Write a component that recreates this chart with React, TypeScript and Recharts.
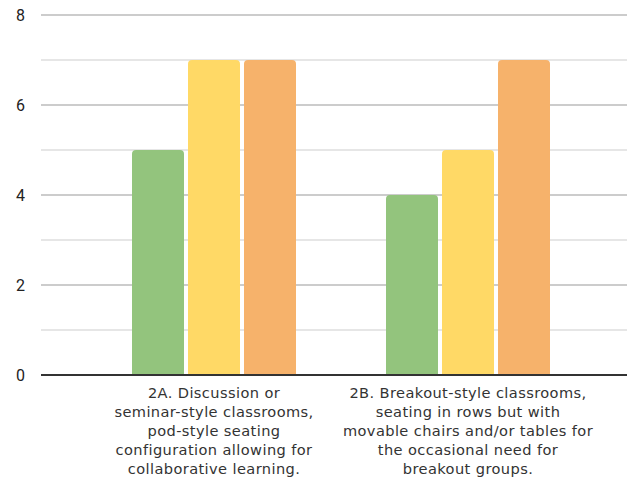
import { BarChart, Bar, XAxis, YAxis, CartesianGrid, ReferenceLine } from "recharts";

const categories = [
  "2A. Discussion or seminar-style classrooms, pod-style seating configuration allowing for collaborative learning.",
  "2B. Breakout-style classrooms, seating in rows but with movable chairs and/or tables for the occasional need for breakout groups.",
];
const categoryLines = [
  ["2A. Discussion or", "seminar-style classrooms,", "pod-style seating", "configuration allowing for", "collaborative learning."],
  ["2B. Breakout-style classrooms,", "seating in rows but with", "movable chairs and/or tables for", "the occasional need for", "breakout groups."],
];
const greenValues = [5, 4];
const yellowValues = [7, 5];
const orangeValues = [7, 7];
const majorTicks = [0, 2, 4, 6, 8];
const minorTicks = [1, 3, 5, 7];

const data = categories.map((name, i) => ({
  name,
  green: greenValues[i],
  yellow: yellowValues[i],
  orange: orangeValues[i],
}));

function CategoryTick(props: any) {
  const { x, y, index } = props;
  const lines = categoryLines[index] || [];
  return (
    <g transform={`translate(${x},${y})`}>
      <text
        textAnchor="middle"
        fill="#333"
        fontFamily="'DejaVu Sans', sans-serif"
        fontSize={14.6}
        letterSpacing={0.4}
      >
        {lines.map((l, i) => (
          <tspan key={i} x={0} dy={i === 0 ? 15 : 19}>
            {l}
          </tspan>
        ))}
      </text>
    </g>
  );
}

export default function App() {
  return (
    <div style={{ position: "absolute", left: 0, top: 0, background: "#fff" }}>
      <BarChart
        width={627}
        height={478}
        data={data}
        margin={{ top: 15, right: 0, bottom: 0, left: 0 }}
        barSize={52}
        barGap={4}
      >
        <CartesianGrid vertical={false} horizontalValues={minorTicks} stroke="#e6e6e6" strokeWidth={2} />
        <CartesianGrid vertical={false} horizontalValues={[2, 4, 6, 8]} stroke="#cccccc" strokeWidth={2} />
        <XAxis
          dataKey="name"
          height={103}
          axisLine={false}
          tickLine={false}
          interval={0}
          tick={<CategoryTick />}
          padding={{ left: 46, right: 32 }}
        />
        <YAxis
          width={41}
          domain={[0, 8]}
          ticks={majorTicks}
          axisLine={false}
          tickLine={false}
          tickMargin={10}
          tick={{ fill: "#222", fontSize: 16, fontFamily: "Roboto, sans-serif" }}
        />
        <Bar dataKey="green" fill="#93c47d" radius={[4, 4, 0, 0]} isAnimationActive={false} />
        <Bar dataKey="yellow" fill="#ffd966" radius={[4, 4, 0, 0]} isAnimationActive={false} />
        <Bar dataKey="orange" fill="#f6b26b" radius={[4, 4, 0, 0]} isAnimationActive={false} />
        <ReferenceLine y={0} stroke="#333333" strokeWidth={2} />
      </BarChart>
    </div>
  );
}
